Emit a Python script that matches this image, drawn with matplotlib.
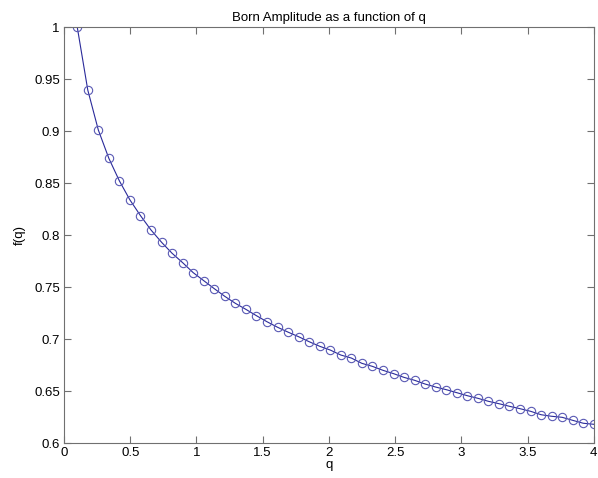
import matplotlib
matplotlib.use("Agg")
import matplotlib.pyplot as plt

# sample points q and the Born amplitude f(q) at each one
q_vals = [0.1000, 0.1796, 0.2592, 0.3388, 0.4184, 0.4980, 0.5776, 0.6571, 0.7367, 0.8163,
          0.8959, 0.9755, 1.0551, 1.1347, 1.2143, 1.2939, 1.3735, 1.4531, 1.5327, 1.6122,
          1.6918, 1.7714, 1.8510, 1.9306, 2.0102, 2.0898, 2.1694, 2.2490, 2.3286, 2.4082,
          2.4878, 2.5673, 2.6469, 2.7265, 2.8061, 2.8857, 2.9653, 3.0449, 3.1245, 3.2041,
          3.2837, 3.3633, 3.4429, 3.5224, 3.6020, 3.6816, 3.7612, 3.8408, 3.9204, 4.0000]
f_vals = [1.0000, 0.9394, 0.9010, 0.8737, 0.8520, 0.8337, 0.8186, 0.8048, 0.7930, 0.7824,
          0.7734, 0.7638, 0.7561, 0.7484, 0.7410, 0.7343, 0.7285, 0.7224, 0.7166, 0.7113,
          0.7066, 0.7022, 0.6974, 0.6930, 0.6894, 0.6846, 0.6817, 0.6766, 0.6737, 0.6699,
          0.6667, 0.6631, 0.6603, 0.6567, 0.6538, 0.6513, 0.6484, 0.6455, 0.6430, 0.6401,
          0.6378, 0.6353, 0.6330, 0.6305, 0.6272, 0.6257, 0.6247, 0.6218, 0.6190, 0.6180]

x_ticks = [0, 0.5, 1, 1.5, 2, 2.5, 3, 3.5, 4]
x_labels = ["0", "0.5", "1", "1.5", "2", "2.5", "3", "3.5", "4"]
y_ticks = [0.6, 0.65, 0.7, 0.75, 0.8, 0.85, 0.9, 0.95, 1]
y_labels = ["0.6", "0.65", "0.7", "0.75", "0.8", "0.85", "0.9", "0.95", "1"]

plt.rcParams['font.family'] = ['Liberation Sans', 'DejaVu Sans']

fig = plt.figure(figsize=(5.98, 4.78), dpi=100)
ax = fig.add_axes([0.107, 0.0732, 0.886, 0.8703])

# line with open circle markers, matlab style
ax.plot(q_vals, f_vals, '-', color='#2a2a9a', linewidth=0.8)
ax.plot(q_vals, f_vals, 'o', markerfacecolor='none', markeredgecolor='#5a5ab4',
        markersize=6, markeredgewidth=0.8)

ax.set_xlim(0, 4)
ax.set_ylim(0.6, 1)
ax.set_xticks(x_ticks)
ax.set_xticklabels(x_labels)
ax.set_yticks(y_ticks)
ax.set_yticklabels(y_labels)

ax.tick_params(direction='in', top=True, right=True, length=5, width=0.8,
               color='#707070', labelsize=9.5, pad=3)
for s in ax.spines.values():
    s.set_color('#707070')
    s.set_linewidth(0.8)

ax.set_title("Born Amplitude as a function of q", fontsize=9.5, pad=4)
ax.set_xlabel("q", fontsize=9.5, labelpad=0)
ax.set_ylabel("f(q)", fontsize=9.5, labelpad=6)

fig.savefig("out.png", dpi=100)
